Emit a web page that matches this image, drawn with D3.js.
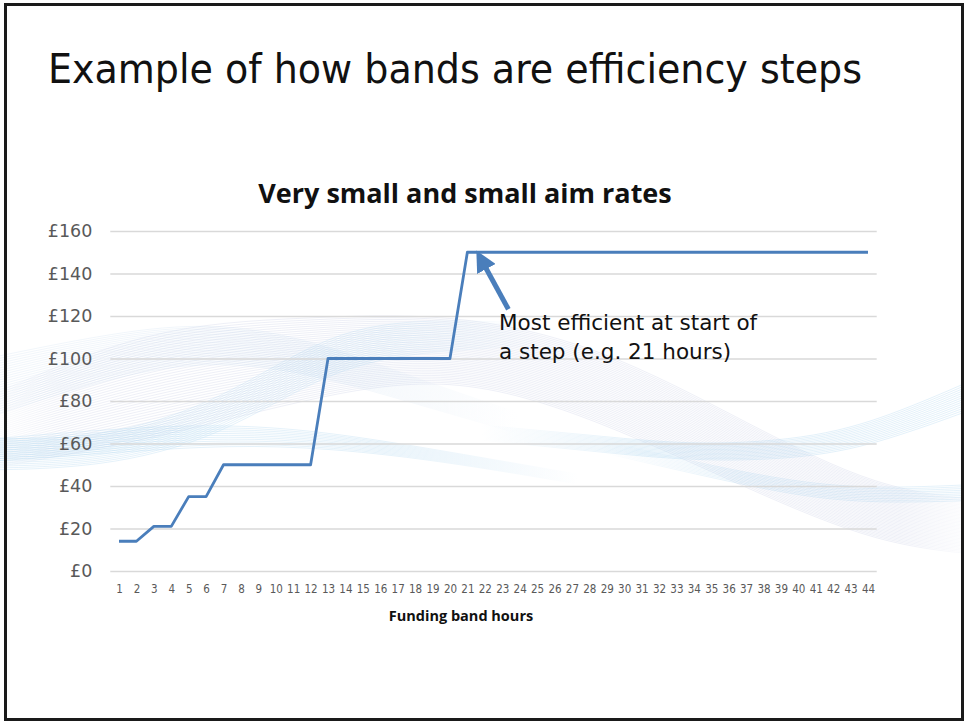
<!DOCTYPE html>
<html>
<head>
<meta charset="utf-8">
<script src="https://cdn.jsdelivr.net/npm/d3@7"></script>
<style>
  body { margin: 0; background: #fff; }
  svg { display: block; }
</style>
</head>
<body>
<svg id="chart"></svg>
<script>
// Chart data
const hours = d3.range(1, 45);
const rates = [14, 14, 21, 21, 35, 35, 50, 50, 50, 50, 50, 50,
               100, 100, 100, 100, 100, 100, 100, 100,
               150, 150, 150, 150, 150, 150, 150, 150, 150, 150, 150, 150,
               150, 150, 150, 150, 150, 150, 150, 150, 150, 150, 150, 150];
const yTicks = [0, 20, 40, 60, 80, 100, 120, 140, 160];

const slideTitle = "Example of how bands are efficiency steps";
const chartTitle = "Very small and small aim rates";
const xTitle = "Funding band hours";
const note = ["Most efficient at start of", "a step (e.g. 21 hours)"];
const noteHour = 21;

const w = 964, h = 721;

const svg = d3.select("#chart").attr("width", w).attr("height", h);
const defs = svg.append("defs");

// background swooshes (decoration only); fade = [x where it appears, x fully in, x starts fading, x gone]
const waves = [
  {top: [[-20,400],[150,326],[300,318],[450,312],[600,345],[750,425],[880,490],[984,500]],
   bot: [[-20,470],[150,440],[300,400],[450,372],[600,420],[750,490],[880,545],[984,555]],
   n: 40, color: "#aab2d6", op: 0.2, fade: [-20, 60, 900, 984]},
  {top: [[-20,360],[100,335],[200,322],[300,335],[420,380],[540,420]],
   bot: [[-20,420],[100,380],[200,360],[300,370],[420,405],[540,440]],
   n: 25, color: "#b9d2ea", op: 0.2, fade: [-20, 0, 330, 520]},
  {top: [[-20,438],[100,440],[220,402],[330,330],[430,318],[560,325]],
   bot: [[-20,470],[100,468],[220,438],[330,368],[430,350],[560,345]],
   n: 18, color: "#a9d3ee", op: 0.3, fade: [-20, 0, 380, 540]},
  {top: [[-20,440],[120,428],[230,424],[330,432],[450,452],[600,478]],
   bot: [[-20,462],[120,452],[230,445],[330,448],[450,462],[600,488]],
   n: 12, color: "#a9d3ee", op: 0.3, fade: [-20, 0, 380, 580]},
  {top: [[480,425],[600,436],[700,446],[820,438],[900,412],[984,375]],
   bot: [[480,440],[600,452],[700,462],[820,458],[900,436],[984,405]],
   n: 14, color: "#a9d3ee", op: 0.32, fade: [480, 640, 984, 985]},
  {top: [[600,440],[720,468],[820,486],[900,488],[984,484]],
   bot: [[600,452],[720,480],[820,500],[900,503],[984,500]],
   n: 10, color: "#a9d3ee", op: 0.3, fade: [600, 740, 984, 985]}
];

const waveLine = d3.line().curve(d3.curveBasis);
const wg = svg.append("g").attr("class", "waves");
waves.forEach((f, j) => {
  const [a, b, c, e] = f.fade;
  const span = e - a;
  const grad = defs.append("linearGradient")
    .attr("id", `wave${j}`)
    .attr("gradientUnits", "userSpaceOnUse")
    .attr("x1", a).attr("x2", e).attr("y1", 0).attr("y2", 0);
  [[a, 0], [b, f.op], [c, f.op], [e, 0]].forEach(([px, o]) => {
    grad.append("stop")
      .attr("offset", (px - a) / span)
      .attr("stop-color", f.color)
      .attr("stop-opacity", o);
  });
  d3.range(f.n).forEach(i => {
    const t = i / (f.n - 1);
    const pts = f.top.map((p, k) => [p[0] + (f.bot[k][0] - p[0]) * t, p[1] + (f.bot[k][1] - p[1]) * t]);
    wg.append("path")
      .attr("d", waveLine(pts))
      .attr("fill", "none")
      .attr("stroke", `url(#wave${j})`)
      .attr("stroke-width", 1);
  });
});

// slide title
svg.append("text")
  .attr("x", 48).attr("y", 83)
  .attr("font-family", "DejaVu Sans Condensed")
  .attr("font-size", 40)
  .attr("fill", "#111")
  .attr("textLength", 814)
  .attr("lengthAdjust", "spacingAndGlyphs")
  .text(slideTitle);

// scales
const x = d3.scalePoint().domain(hours).range([110.3, 876.7]).padding(0.5);
const y = d3.scaleLinear().domain([0, 160]).range([571, 231]);

// gridlines + y labels
const yAxis = d3.axisLeft(y)
  .tickValues(yTicks)
  .tickSize(-(876.7 - 110.3))
  .tickPadding(18)
  .tickFormat(d => `£${d}`);

const gy = svg.append("g").attr("transform", "translate(110.3,0)").call(yAxis);
gy.select(".domain").remove();
gy.selectAll(".tick line").attr("stroke", "#d9d9d9").attr("stroke-width", 1.3);
gy.selectAll(".tick text")
  .attr("font-family", "DejaVu Sans")
  .attr("font-size", 17.5)
  .attr("fill", "#595959");

// x labels
const xAxis = d3.axisBottom(x).tickSize(0).tickPadding(14);
const gx = svg.append("g").attr("transform", "translate(0,571)").call(xAxis);
gx.select(".domain").remove();
gx.selectAll(".tick text")
  .attr("font-family", "DejaVu Sans Condensed")
  .attr("font-size", 11.5)
  .attr("fill", "#595959");

// chart title and axis title
svg.append("text")
  .attr("x", 465).attr("y", 203)
  .attr("text-anchor", "middle")
  .attr("font-family", "Open Sans")
  .attr("font-weight", "bold")
  .attr("font-size", 27)
  .attr("fill", "#111")
  .text(chartTitle);

svg.append("text")
  .attr("x", 461).attr("y", 621)
  .attr("text-anchor", "middle")
  .attr("font-family", "Open Sans")
  .attr("font-weight", "bold")
  .attr("font-size", 14.5)
  .attr("fill", "#111")
  .text(xTitle);

// the step line
const line = d3.line()
  .x((d, i) => x(hours[i]))
  .y(d => y(d));

svg.append("path")
  .datum(rates)
  .attr("d", line)
  .attr("fill", "none")
  .attr("stroke", "#4a7ebb")
  .attr("stroke-width", 2.8)
  .attr("stroke-linejoin", "round");

// annotation
defs.append("marker")
  .attr("id", "head")
  .attr("viewBox", "0 0 10 10")
  .attr("refX", 2).attr("refY", 5)
  .attr("markerWidth", 4.2).attr("markerHeight", 4.2)
  .attr("orient", "auto")
  .append("path")
  .attr("d", "M0,0 L10,5 L0,10 z")
  .attr("fill", "#4a7ebb");

const tipX = x(noteHour) + 9, tipY = y(rates[noteHour - 1]) + 1;
svg.append("line")
  .attr("x1", tipX + 32).attr("y1", tipY + 56)
  .attr("x2", tipX + 8).attr("y2", tipY + 12)
  .attr("stroke", "#4a7ebb")
  .attr("stroke-width", 5)
  .attr("marker-end", "url(#head)");

svg.append("g").selectAll("text")
  .data(note)
  .enter()
  .append("text")
  .attr("x", 499)
  .attr("y", (d, i) => 330 + i * 29)
  .attr("font-family", "DejaVu Sans")
  .attr("font-size", 21.5)
  .attr("fill", "#111")
  .text(d => d);

// slide frame
svg.append("rect")
  .attr("x", 5.5).attr("y", 4.5)
  .attr("width", 957).attr("height", 715)
  .attr("fill", "none")
  .attr("stroke", "#1a1a1a")
  .attr("stroke-width", 3);
</script>
</body>
</html>
